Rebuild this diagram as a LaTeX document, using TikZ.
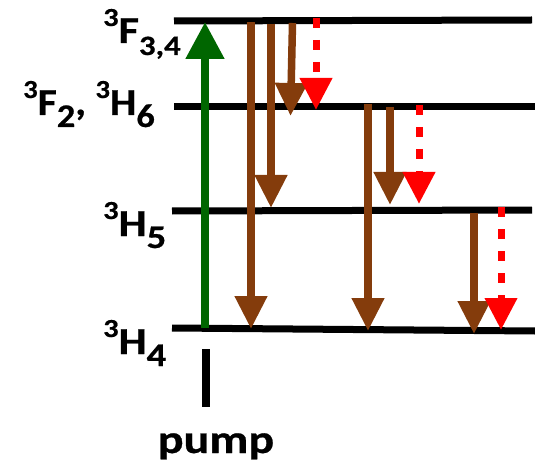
\documentclass[tikz,border=0pt]{standalone}
\usepackage{fontspec}
\setmainfont{Carlito}[BoldFont={Carlito Bold},BoldFeatures={FakeBold=0.6}]
\usetikzlibrary{arrows.meta}
\definecolor{pumpgreen}{RGB}{0,102,0}
\definecolor{relaxbrown}{RGB}{132,60,12}
\definecolor{emitred}{RGB}{255,0,0}
\newcommand\tsup[1]{{\fontsize{26pt}{26pt}\selectfont\raisebox{17pt}{#1}}}
\newcommand\tsub[1]{{\fontsize{33pt}{33pt}\selectfont\raisebox{-12pt}{#1}}}
\newcommand\tsubs[1]{{\fontsize{28pt}{28pt}\selectfont\raisebox{-12pt}{#1}}}
\newcommand\wide[1]{\scalebox{1.17}[1]{#1}}
\begin{document}
\begin{tikzpicture}[x=1pt,y=-1pt,
  level/.style={line width=7pt,black},
  lbl/.style={anchor=base west,inner sep=0pt,font=\fontsize{38pt}{38pt}\selectfont\bfseries},
  pumparrow/.style={line width=8pt,pumpgreen,-{Triangle[length=37pt,width=37pt]}},
  relax/.style={line width=7.5pt,relaxbrown,-{Triangle[length=33pt,width=31pt]}},
  emit/.style={line width=7pt,emitred,dash pattern=on 10pt off 12pt,-{Triangle[length=32pt,width=31pt,sep=0pt]}}]
\useasboundingbox (0,0) rectangle (535,465);
% levels
\coordinate (L1a) at (174,21);  \coordinate (L1b) at (532,20);
\coordinate (L2a) at (174,107); \coordinate (L2b) at (535,107);
\coordinate (L3a) at (172,211); \coordinate (L3b) at (532,210);
\coordinate (L4a) at (172,328); \coordinate (L4b) at (535,331);
\draw[level] (L1a) -- (L1b);
\draw[level] (L2a) -- (L2b);
\draw[level] (L3a) -- (L3b);
\draw[level] (L4a) -- (L4b);
% labels
\node[lbl] (t1) at (103,43) {\wide{\tsup{3}F\tsubs{3,4}}};
\node[lbl] (t2) at (23,115) {\scalebox{1.1}[1]{\tsup{3}F\tsub{2}, \tsup{3}H\tsub{6}}};
\node[lbl] (t3) at (103,236) {\wide{\tsup{3}H\tsub{5}}};
\node[lbl] (t4) at (103,354) {\wide{\tsup{3}H\tsub{4}}};
\node[lbl,anchor=base,font=\fontsize{40pt}{40pt}\selectfont\bfseries] (tp) at (216,453) {\scalebox{1.2}[1]{pump}};
% pump
\coordinate (g0) at (205,328); \coordinate (g1) at (205,22);
\draw[pumparrow] (g0) -- (g1);
\coordinate (p0) at (206,349); \coordinate (p1) at (206,407);
\draw[line width=8pt,black] (p0) -- (p1);
% relaxations
\coordinate (b1s) at (251,22);    \coordinate (b1e) at (251,329);
\coordinate (b2s) at (271,24);    \coordinate (b2e) at (271,208);
\coordinate (b3s) at (292.5,23);  \coordinate (b3e) at (290.5,116);
\coordinate (b4s) at (368,104);   \coordinate (b4e) at (368,331);
\coordinate (b5s) at (390,107);   \coordinate (b5e) at (390,205);
\coordinate (b6s) at (474,213);   \coordinate (b6e) at (474,334);
\draw[relax] (b1s) -- (b1e);
\draw[relax] (b2s) -- (b2e);
\draw[relax] (b3s) -- (b3e);
\draw[relax] (b4s) -- (b4e);
\draw[relax] (b5s) -- (b5e);
\draw[relax] (b6s) -- (b6e);
% emissions
\coordinate (r1s) at (316,18);  \coordinate (r1e) at (316,110);
\coordinate (r2s) at (419,105); \coordinate (r2e) at (419,204);
\coordinate (r3s) at (501,207); \coordinate (r3e) at (501,330);
\draw[emit] (r1s) -- (r1e);
\draw[emit] (r2s) -- (r2e);
\draw[emit] (r3s) -- (r3e);
\end{tikzpicture}
\end{document}
